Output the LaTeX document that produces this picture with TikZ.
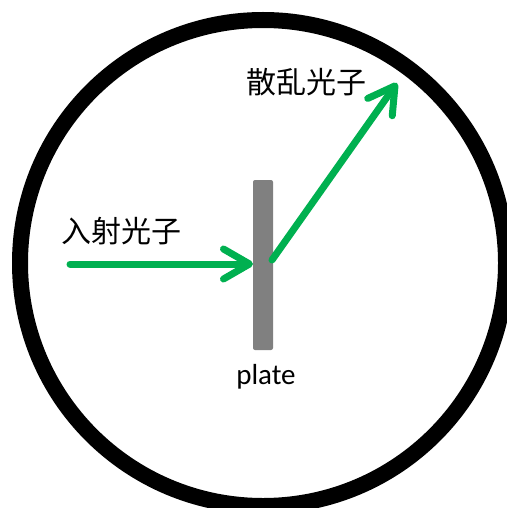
\documentclass[tikz,border=0pt]{standalone}
\usepackage{fontspec}
\newfontfamily\cjk{Noto Sans CJK SC}
\setmainfont{Carlito}
\usetikzlibrary{arrows.meta}
\definecolor{photon}{RGB}{0,176,80}
\definecolor{plategray}{RGB}{128,128,128}
\tikzset{
  ring/.style={draw=black, line width=16pt},
  platebox/.style={rectangle, fill=plategray, minimum width=20pt, minimum height=170pt, rounded corners=2pt, inner sep=0pt},
  ray/.style={draw=photon, line width=7pt, line cap=round, -{Straight Barb[length=26pt,width=30pt,round]}},
  lbl/.style={font=\cjk\fontsize{30}{33}\selectfont, inner sep=0pt},
  platelbl/.style={font=\fontsize{29}{32}\selectfont, inner sep=0pt}
}
\begin{document}
\begin{tikzpicture}[x=1pt,y=-1pt]
\useasboundingbox (0,0) rectangle (506,508);
\node[ring, circle, minimum size=486pt, inner sep=0pt] (ring) at (263,263) {};
\node[platebox] (plate) at (263,265) {};
\node[platelbl] (platetext) at (266,377) {plate};
\node[lbl] (inlabel) at (121,231) {入射光子};
\node[lbl] (outlabel) at (306,82) {散乱光子};
\coordinate (instart) at (70,264);
\coordinate (hit) at (253,264);
\coordinate (outstart) at (272,260);
\coordinate (outend) at (397,83);
\draw[ray] (instart) -- (hit);
\draw[ray] (outstart) -- (outend);
\end{tikzpicture}
\end{document}
